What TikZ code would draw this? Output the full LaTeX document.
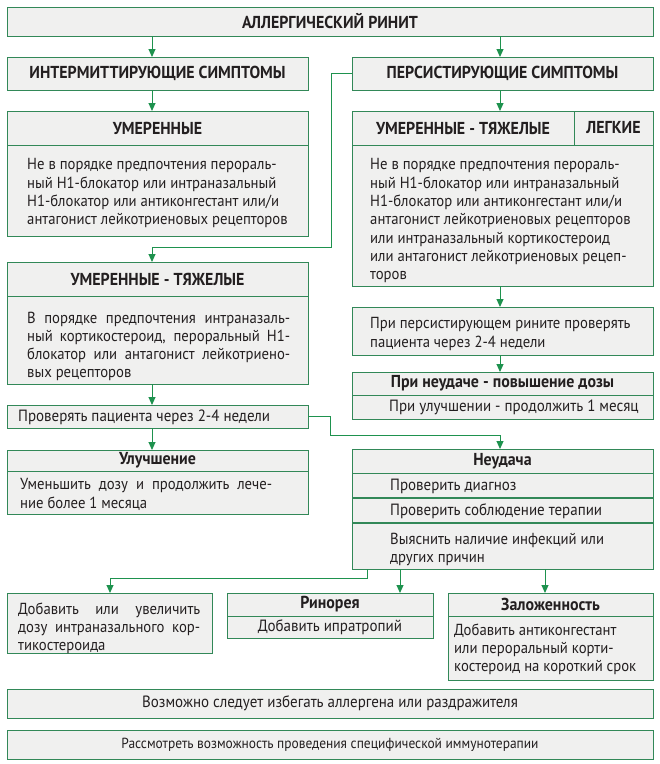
\documentclass[tikz,border=0pt]{standalone}
\usepackage{fontspec}
\setmainfont{PT Sans}[FakeStretch=0.92]
\usetikzlibrary{arrows.meta,calc}
\definecolor{bord}{RGB}{50,136,88}
\definecolor{arrc}{RGB}{30,146,78}
\definecolor{boxfill}{RGB}{240,240,239}
\definecolor{txt}{RGB}{35,31,32}
\newcommand\justline[2]{\makebox[#1][s]{#2}}
\begin{document}
\begin{tikzpicture}[x=1pt,y=-1pt,
  box/.style={draw=bord, fill=boxfill, line width=1pt, inner sep=0pt, outer sep=0pt, anchor=north west, text=txt},
  hd/.style={font=\fontsize{17.3}{19}\selectfont\bfseries},
  hm/.style={font=\fontsize{17.3}{19}\selectfont\bfseries},
  bt/.style={font=\fontsize{16}{18.3}\selectfont, text=txt, inner sep=0pt, align=left},
  ct/.style={font=\fontsize{16.3}{18}\selectfont},
  cs/.style={font=\fontsize{14.6}{18}\selectfont},
  arr/.style={draw=arrc, line width=1pt, -{Triangle[width=7pt,length=8pt]}},
  thick row/.style={draw=bord, line width=2pt}]
\useasboundingbox (0,0) rectangle (660,764);
\fill[white] (0,0) rectangle (660,764);
\coordinate (xl) at (152,0);
\coordinate (xr) at (500,0);
\coordinate (xa) at (110,0);
\coordinate (xb) at (400,0);
\coordinate (xc) at (545,0);
\coordinate (j1) at (331,247);
\coordinate (j2) at (330,435);
\coordinate (j3) at (367,578);

% top
\node[box,hd,minimum width=646,minimum height=29] (top) at (7,7) {АЛЛЕРГИЧЕСКИЙ РИНИТ};
\node[box,hd,minimum width=301,minimum height=33] (int) at (7,57) {ИНТЕРМИТТИРУЮЩИЕ СИМПТОМЫ};
\node[box,hd,minimum width=301,minimum height=33] (per) at (352,57) {ПЕРСИСТИРУЮЩИЕ СИМПТОМЫ};

% left moderate
\node[box,minimum width=301,minimum height=91] (umlb) at (7,145) {};
\node[box,hd,minimum width=301,minimum height=34] (umlh) at (7,111) {УМЕРЕННЫЕ};
\node[bt,anchor=north west] (umlt) at (27,158.5) {Не в порядке предпочтения перораль-\\ный H1-блокатор или интраназальный\\H1-блокатор или антиконгестант или/и\\антагонист лейкотриеновых рецепторов};

% right moderate-severe / mild
\node[box,minimum width=301,minimum height=141] (rb) at (352,145) {};
\node[box,hd,minimum width=222,minimum height=34] (rh1) at (352,111) {УМЕРЕННЫЕ - ТЯЖЕЛЫЕ};
\node[box,hd,minimum width=79,minimum height=34] (rh2) at (574,111) {ЛЕГКИЕ};
\node[bt,anchor=north west] (rbt) at (370,158.5) {Не в порядке предпочтения перораль-\\ный H1-блокатор или интраназальный\\H1-блокатор или антиконгестант или/и\\антагонист лейкотриеновых рецепторов\\или интраназальный кортикостероид\\или антагонист лейкотриеновых рецеп-\\торов};

% left moderate-severe
\node[box,minimum width=301,minimum height=88] (umtb) at (7,296) {};
\node[box,hd,minimum width=301,minimum height=34] (umth) at (7,262) {УМЕРЕННЫЕ - ТЯЖЕЛЫЕ};
\node[bt,anchor=north west] (umtt) at (27,311.5) {\justline{263pt}{В порядке предпочтения интраназаль-}\\\justline{263pt}{ный кортикостероид, пероральный H1-}\\\justline{263pt}{блокатор или антагонист лейкотриено-}\\вых рецепторов};

% check
\node[box,minimum width=301,minimum height=23] (chk) at (7,405) {};
\node[ct,anchor=west,inner sep=0pt,text=txt] (chkt) at (18,417) {Проверять пациента через 2-4 недели};

% improvement
\node[box,minimum width=301,minimum height=43] (ulub) at (7,471) {};
\node[box,hm,minimum width=301,minimum height=21] (uluh) at (7,450) {Улучшение};
\node[bt,anchor=north west] (ulut) at (20,478.5) {\justline{252pt}{Уменьшить дозу и продолжить лече-}\\ние более 1 месяца};

% right: persistent check
\node[box,minimum width=301,minimum height=48] (pri) at (352,307) {};
\node[bt,anchor=north west] (prit) at (370,317.5) {При персистирующем рините проверять\\пациента через 2-4 недели};

% failure - dose increase
\node[box,minimum width=301,minimum height=24] (nedb) at (352,395) {};
\node[box,hm,minimum width=301,minimum height=23] (nedh) at (352,372) {При неудаче - повышение дозы};
\node[ct,anchor=west,inner sep=0pt,text=txt] (nedt) at (389,407) {При улучшении - продолжить 1 месяц};

% failure box
\node[box,minimum width=301,minimum height=46] (r3) at (352,523) {};
\node[box,minimum width=301,minimum height=25] (r2) at (352,498) {};
\node[box,minimum width=301,minimum height=25] (r1) at (352,473) {};
\node[box,hm,minimum width=301,minimum height=24] (neuh) at (352,449) {Неудача};
\draw[thick row] (r1.south west) -- (r1.south east);
\draw[thick row] (r2.south west) -- (r2.south east);
\node[ct,anchor=west,inner sep=0pt,text=txt] (r1t) at (390,486) {Проверить диагноз};
\node[ct,anchor=west,inner sep=0pt,text=txt] (r2t) at (390,511) {Проверить соблюдение терапии};
\node[bt,anchor=north west] (r3t) at (390,532.5) {Выяснить наличие инфекций или\\других причин};

% bottom three
\node[box,minimum width=205,minimum height=60] (add) at (7,593) {};
\node[bt,anchor=north west] (addt) at (18,602.5) {\justline{182pt}{Добавить или увеличить}\\\justline{182pt}{дозу интраназального кор-}\\тикостероида};

\node[box,minimum width=206,minimum height=22] (rinb) at (227,616) {};
\node[box,hm,minimum width=206,minimum height=23] (rinh) at (227,593) {Ринорея};
\node[ct,text=txt,inner sep=0pt] (rint) at (rinb.center) {Добавить ипратропий};

\node[box,minimum width=205,minimum height=64] (zalb) at (448,616) {};
\node[box,hm,minimum width=205,minimum height=23] (zalh) at (448,593) {Заложенность};
\node[bt,anchor=north west] (zalt) at (454,623.5) {Добавить антиконгестант\\или пероральный корти-\\костероид на короткий срок};

% bottom bars
\node[box,ct,minimum width=646,minimum height=29] (avoid) at (7,689) {Возможно следует избегать аллергена или раздражителя};
\node[box,cs,minimum width=646,minimum height=29] (immu) at (7,730) {Рассмотреть возможность проведения специфической иммунотерапии};

% connectors
\draw[arr] (top.south -| xl) -- (int.north -| xl);
\draw[arr] (top.south -| xr) -- (per.north -| xr);
\draw[arr] (int.south -| xl) -- (umlh.north -| xl);
\draw[arr] (per.south -| xr) -- (rh1.north -| xr);
\draw[arr] (per.west) -- (per.west -| j1) -- (j1) -- (j1 -| xl) -- (umth.north -| xl);
\draw[arr] (umtb.south -| xl) -- (chk.north -| xl);
\draw[arr] (chk.south -| xl) -- (uluh.north -| xl);
\draw[arr] (chk.east) -- (chk.east -| j2) -- (j2) -- (j2 -| xr) -- (neuh.north -| xr);
\draw[arr] (rb.south -| xr) -- (pri.north -| xr);
\draw[arr] (pri.south -| xr) -- (nedh.north -| xr);
\draw[arr] (r3.south -| j3) -- (j3) -- (j3 -| xa) -- (add.north -| xa);
\draw[arr] (r3.south -| xb) -- (rinh.north -| xb);
\draw[arr] (r3.south -| xc) -- (zalh.north -| xc);
\end{tikzpicture}
\end{document}
